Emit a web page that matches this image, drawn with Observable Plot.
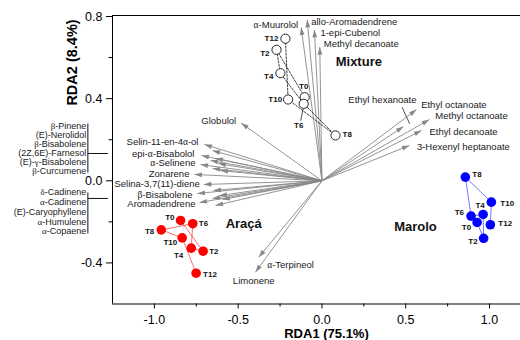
<!DOCTYPE html>
<html><head><meta charset="utf-8">
<script src="https://cdn.jsdelivr.net/npm/d3@7"></script>
<script src="https://cdn.jsdelivr.net/npm/@observablehq/plot@0.6"></script>
<style>body{margin:0;background:#fff} svg{display:block}</style>
</head><body><div id="chart"></div>
<script>
// ---------- DATA (RDA scores) ----------
const timepoints = ["T0","T2","T4","T6","T8","T10","T12"];
const mixtureRDA1 = [-0.103,-0.271,-0.248,-0.109, 0.081,-0.202,-0.218];
const mixtureRDA2 = [ 0.407, 0.638, 0.524, 0.375, 0.221, 0.396, 0.692];
const aracaRDA1   = [-0.844,-0.709,-0.780,-0.771,-0.959,-0.834,-0.751];
const aracaRDA2   = [-0.193,-0.343,-0.328,-0.209,-0.239,-0.278,-0.450];
const maroloRDA1  = [ 0.926, 0.965, 0.962, 0.890, 0.856, 1.011, 1.005];
const maroloRDA2  = [-0.203,-0.280,-0.164,-0.172, 0.018,-0.104,-0.214];
const groupNames  = ["Mixture","Araçá","Marolo"];

// ---------- DATA (compound loadings, arrows) ----------
const compounds = ["α-Muurolol","allo-Aromadendrene","1-epi-Cubenol","Methyl decanoate","Globulol",
  "Selin-11-en-4α-ol","epi-α-Bisabolol","α-Selinene","Zonarene","Selina-3,7(11)-diene","β-Bisabolene","Aromadendrene",
  "Ethyl hexanoate","Ethyl octanoate","Methyl octanoate","Ethyl decanoate","3-Hexenyl heptanoate",
  "α-Terpineol","Limonene"];
const compoundRDA1 = [-0.124,-0.088,-0.045,-0.013,-0.482,-0.701,-0.719,-0.725,-0.761,-0.705,-0.743,-0.731,
  0.486,0.564,0.641,0.594,0.522,-0.377,-0.397];
const compoundRDA2 = [0.747,0.784,0.735,0.651,0.281,0.177,0.123,0.079,0.031,-0.018,-0.062,-0.106,
  0.264,0.347,0.298,0.245,0.172,-0.372,-0.445];
const bracket1 = ["β-Pinene","(E)-Nerolidol","β-Bisabolene","(2Z,6E)-Farnesol","(E)-γ-Bisabolene","β-Curcumene"];
const bracket1RDA1 = [-0.653,-0.635,-0.665,-0.618,-0.653,-0.606];
const bracket1RDA2 = [0.147,0.109,0.099,0.084,0.060,0.050];
const bracket2 = ["δ-Cadinene","α-Cadinene","(E)-Caryophyllene","α-Humulene","α-Copaene"];
const bracket2RDA1 = [-0.647,-0.612,-0.653,-0.594,-0.635];
const bracket2RDA2 = [-0.047,-0.072,-0.086,-0.091,-0.120];

const xTicks = [-1.0,-0.5,0.0,0.5,1.0], xMinor = [-0.75,-0.25,0.25,0.75];
const yTicks = [-0.4,0.0,0.4,0.8], yMinor = [-0.2,0.2,0.6];

// ---------- LAYOUT / PLACEMENT ----------
const W=520, H=340, mL=112, mR=0, mT=15, mB=36.5;
const xDom=[-1.25,1.185], yDom=[-0.6,0.805];
const kx=(W-mL-mR)/(xDom[1]-xDom[0]), ky=(H-mT-mB)/(yDom[1]-yDom[0]);
const ox=(x,dx)=>x+dx/kx, oy=(y,dy)=>y-dy/ky;
// label anchor and pixel offsets from the arrow tip
const compoundLabelPos = [["end",-3,-2],["start",4,2],["start",6,3],["start",4,-3],["end",-5,-2],
  ["end",-6,-2],["end",-7,-2],["end",-5,-1.8],["end",-5,-0.8],["end",-4,-1],["end",-5,1],["end",-4,1.5],
  ["middle",-21,-27],["start",4.7,-5],["start",6,-4],["start",8,1],["start",7.5,1.7],
  ["start",8.4,7.3],["middle",-1.7,8.3]];
const mixLabelPos = [["middle",-1,-11],["end",-7,4],["end",-7,3],["middle",-5,22],["start",7,-1],["end",-6,0],["end",-7,0]];
const aracaLabelPos = [["end",-6,-2.5],["start",6,0],["end",-8,7],["start",6,0],["end",-7,2],["end",-5,5],["start",7,1]];
const maroloLabelPos = [["end",-6,5],["end",-6,3],["middle",-3,-9],["end",-7,-4],["start",7,-3],["start",9,1],["start",8,-1]];
const groupLabelAt = [[0.22,0.578],[-0.467,-0.209],[0.558,-0.226]];
const brackets = [
  {names: bracket1, x: -1.397, cy: 0.133, top: -30, bottom: 19, dys: [-27,-18,-9,0,9,18]},
  {names: bracket2, x: -1.397, cy: -0.086, top: -6, bottom: 35, dys: [-6,3.75,13.5,23.25,33]}
];

// ---------- TABLES ----------
const labeled = compounds.map((n,i)=>({name:n, x:compoundRDA1[i], y:compoundRDA2[i],
  anchor:compoundLabelPos[i][0], lx:ox(compoundRDA1[i],compoundLabelPos[i][1]), ly:oy(compoundRDA2[i],compoundLabelPos[i][2])}));
const unlabeled = [...bracket1.map((n,i)=>({name:n,x:bracket1RDA1[i],y:bracket1RDA2[i]})),
                   ...bracket2.map((n,i)=>({name:n,x:bracket2RDA1[i],y:bracket2RDA2[i]}))];
const arrows = [...labeled, ...unlabeled];
function samples(xs, ys, pos){ return timepoints.map((t,i)=>({t, x:xs[i], y:ys[i], anchor:pos[i][0], lx:ox(xs[i],pos[i][1]), ly:oy(ys[i],pos[i][2])})); }
const mix = samples(mixtureRDA1, mixtureRDA2, mixLabelPos);
const ara = samples(aracaRDA1, aracaRDA2, aracaLabelPos);
const mar = samples(maroloRDA1, maroloRDA2, maroloLabelPos);
const groups = groupNames.map((g,i)=>({g, x:groupLabelAt[i][0], y:groupLabelAt[i][1]}));

const bracketLines = [], bracketLabels = [];
for (const b of brackets) {
  bracketLines.push({x1:b.x, y1:oy(b.cy,b.top), x2:b.x, y2:oy(b.cy,b.bottom)});
  bracketLines.push({x1:b.x, y1:b.cy, x2:ox(b.x,20), y2:b.cy});
  b.names.forEach((n,i)=>bracketLabels.push({name:n, x:ox(b.x,-1.5), y:oy(b.cy,b.dys[i])}));
}
// leader lines (Ethyl hexanoate label, Mixture T6 label)
const eh = labeled[12], t6 = mix[3];
const leaders = [
  {x1:ox(eh.x,6.3), y1:oy(eh.y,-2.8), x2:ox(eh.x,-1.3), y2:oy(eh.y,-19.4)},
  {x1:ox(t6.x,-3), y1:oy(t6.y,17), x2:ox(t6.x,-0.5), y2:oy(t6.y,5)}
];

const gray = "#888888";
const head = {draw(ctx){ ctx.moveTo(0,0); ctx.lineTo(-2.4,7.5); ctx.lineTo(2.4,7.5); ctx.closePath(); }};
const lblFont = 9.5;
function labelMarks(rows, opts){
  return ["start","middle","end"].map(a => Plot.text(rows.filter(d=>d.anchor===a),
    {x:"lx", y:"ly", textAnchor:a, ...opts}));
}

const plot = Plot.plot({
  width:W, height:H, marginLeft:mL, marginRight:mR, marginTop:mT, marginBottom:mB,
  style:{fontFamily:"'Liberation Sans', Arial, sans-serif", background:"#fff", color:"#000"},
  x:{domain:xDom}, y:{domain:yDom},
  marks:[
    Plot.ruleX([xDom[0]], {stroke:"#000", strokeWidth:1}),
    Plot.ruleY([yDom[0]], {stroke:"#000", strokeWidth:1}),
    Plot.ruleY([yDom[1]], {stroke:"#000", strokeWidth:1}),
    Plot.axisX({ticks:xTicks, tickSize:5, tickPadding:6, tickFormat:d=>d.toFixed(1), fontSize:12.5, label:null}),
    Plot.axisX({ticks:xMinor, tickSize:3, tickFormat:()=>"", label:null}),
    Plot.axisY({ticks:yTicks, tickSize:6, tickPadding:4, tickFormat:d=>d.toFixed(1), fontSize:12.5, label:null}),
    Plot.axisY({ticks:yMinor, tickSize:3.5, tickFormat:()=>"", label:null}),
    Plot.text(["RDA1 (75.1%)"], {text:d=>d, frameAnchor:"bottom", textAnchor:"middle", lineAnchor:"middle", dx:10, dy:30, fontWeight:"bold", fontSize:13}),
    Plot.text(["RDA2 (8.4%)"], {text:d=>d, frameAnchor:"top-left", textAnchor:"middle", lineAnchor:"middle", dx:-40, dy:47, rotate:-90, fontWeight:"bold", fontSize:14.5}),
    // arrows
    Plot.link(arrows, {x1:()=>0, y1:()=>0, x2:"x", y2:"y", stroke:gray, strokeWidth:0.9}),
    Plot.dot(arrows, {x:"x", y:"y", symbol:head, fill:gray, stroke:"none", r:3,
      rotate:d=>Math.atan2(d.x*kx, d.y*ky)*180/Math.PI}),
    ...labelMarks(labeled, {text:"name", fontSize:lblFont, fill:"#1a1a1a"}),
    Plot.link(leaders, {x1:"x1", y1:"y1", x2:"x2", y2:"y2", stroke:"#222", strokeWidth:0.8}),
    // brackets
    Plot.link(bracketLines, {x1:"x1", y1:"y1", x2:"x2", y2:"y2", stroke:"#111", strokeWidth:1}),
    Plot.text(bracketLabels, {x:"x", y:"y", text:"name", textAnchor:"end", fontSize:9, fill:"#1a1a1a"}),
    // sample trajectories
    Plot.line(mix, {x:"x", y:"y", stroke:"#111", strokeWidth:0.8, strokeDasharray:"2,1.5"}),
    Plot.line(ara, {x:"x", y:"y", stroke:"#ff2020", strokeWidth:0.7, strokeDasharray:"2,1"}),
    Plot.line(mar, {x:"x", y:"y", stroke:"#2a2aff", strokeWidth:0.7, strokeDasharray:"2,1"}),
    Plot.dot(mix, {x:"x", y:"y", r:4.6, fill:"#fff", stroke:"#111", strokeWidth:0.9}),
    Plot.dot(ara, {x:"x", y:"y", r:4.8, fill:"#ff0000", stroke:"none"}),
    Plot.dot(mar, {x:"x", y:"y", r:4.8, fill:"#0000ff", stroke:"none"}),
    ...labelMarks([...mix, ...ara, ...mar], {text:"t", fontSize:8, fontWeight:"bold", fill:"#111"}),
    Plot.text(groups, {x:"x", y:"y", text:"g", fontSize:13, fontWeight:"bold", fill:"#111"})
  ]
});
document.getElementById("chart").appendChild(plot);

// Greek letters in a serif face, as in the original
const NS="http://www.w3.org/2000/svg";
plot.querySelectorAll("text").forEach(t=>{
  const targets = t.querySelector("tspan") ? [...t.querySelectorAll("tspan")] : [t];
  for (const el of targets) {
    const s = el.textContent;
    if (!/[\u0370-\u03FF]/.test(s)) continue;
    el.textContent = "";
    for (const part of s.split(/([\u0370-\u03FF]+)/)) {
      if (!part) continue;
      const sp = document.createElementNS(NS,"tspan");
      sp.textContent = part;
      if (/[\u0370-\u03FF]/.test(part)) sp.setAttribute("font-family","'Liberation Serif','DejaVu Serif',serif");
      el.appendChild(sp);
    }
  }
});
</script></body></html>
